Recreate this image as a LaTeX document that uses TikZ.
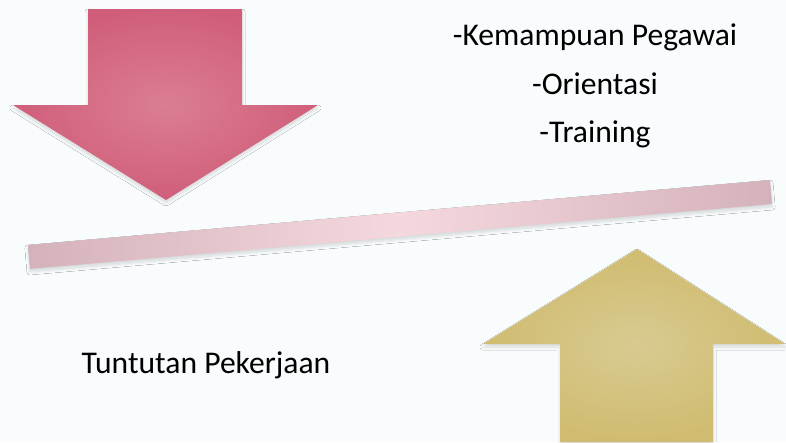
\documentclass[tikz,border=0pt]{standalone}
\usepackage{fontspec}
\setmainfont{Carlito}
\usetikzlibrary{shadows.blur}
\definecolor{bg}{RGB}{248,252,253}
\definecolor{pinkin}{RGB}{219,126,146}
\definecolor{pinkout}{RGB}{208,94,122}
\definecolor{goldin}{RGB}{216,202,145}
\definecolor{goldout}{RGB}{208,188,112}
\definecolor{barend}{RGB}{212,178,187}
\definecolor{barmid}{RGB}{245,216,222}
\tikzset{
  bigarrow/.style={blur shadow={shadow xshift=0pt,shadow yshift=-3pt,shadow blur radius=3pt,shadow blur steps=6,shadow opacity=14}},
  label/.style={font=\fontsize{31.6}{38}\selectfont, text=black, inner sep=0pt, anchor=base}
}
\begin{document}
\begin{tikzpicture}[x=1pt,y=-1pt]
\fill[bg] (0,0) rectangle (786,442);
\useasboundingbox (0,0) rectangle (786,442);
% down arrow
\path[bigarrow, shading=radial, inner color=pinkin, outer color=pinkout]
  (88,9) -- (242,9) -- (242,105) -- (318,105) -- (166,200) -- (13,105) -- (88,105) -- cycle;
% up arrow
\path[bigarrow, shading=radial, inner color=goldin, outer color=goldout]
  (560,442) -- (560,344) -- (483,344) -- (637,249) -- (785,344) -- (713,344) -- (713,442) -- cycle;
% bar
\node[bigarrow, rotate=5, minimum width=745pt, minimum height=24pt, inner sep=0pt,
  left color=barend, right color=barend, middle color=barmid] (bar) at (400,224.5) {};
% texts
\node[label] (k) at (595,45) {-Kemampuan Pegawai};
\node[label] (o) at (595,94) {-Orientasi};
\node[label] (t) at (595,142) {-Training};
\node[label] (tp) at (206,373) {Tuntutan Pekerjaan};
\end{tikzpicture}
\end{document}
